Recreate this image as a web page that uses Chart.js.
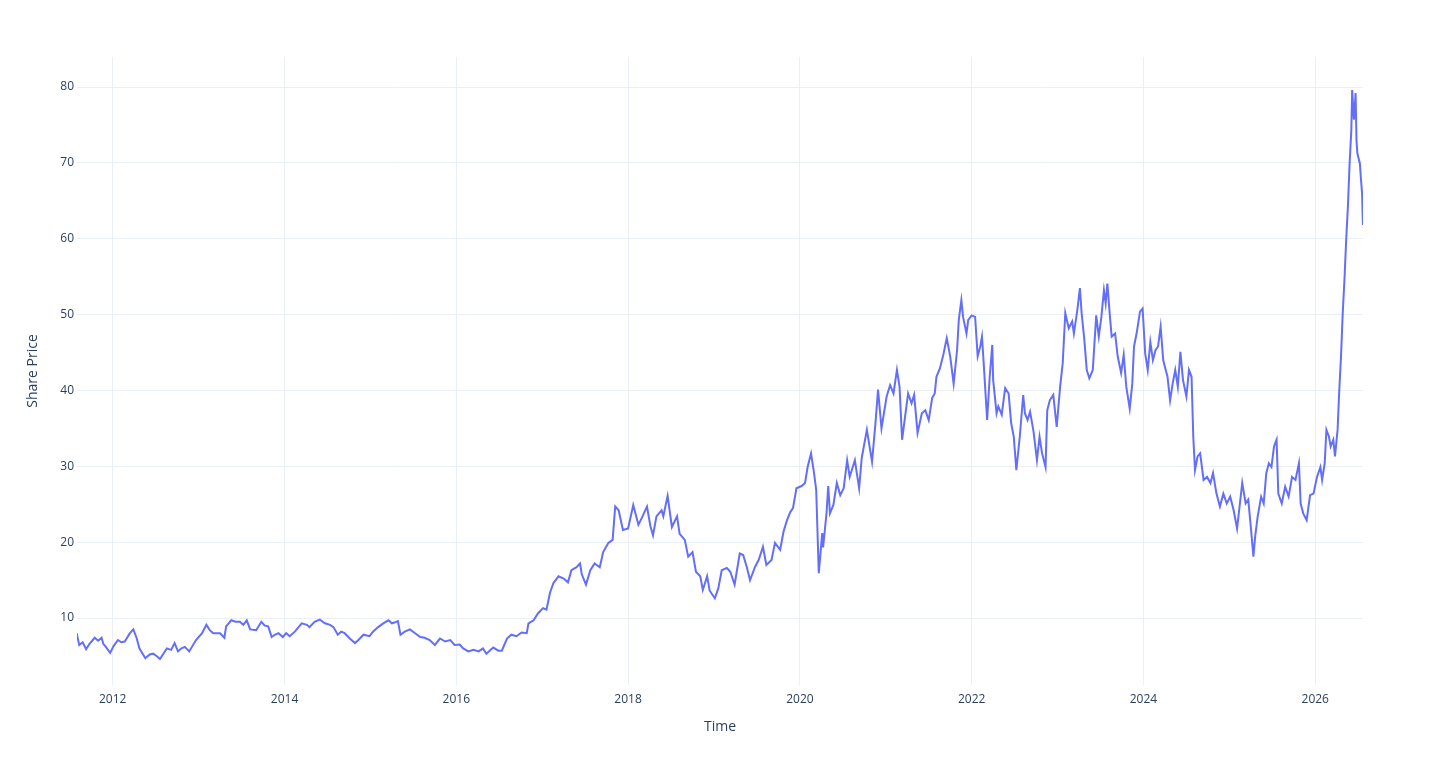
<!DOCTYPE html>
<html>
<head>
<meta charset="utf-8">
<title>Share Price</title>
<script src="https://cdn.jsdelivr.net/npm/chart.js@4.4.1/dist/chart.umd.min.js"></script>
<style>
  html, body { margin: 0; padding: 0; background: #fff; }
  #chart { display: block; }
</style>
</head>
<body>
<canvas id="chart" width="1440" height="768"></canvas>
<script>
// time in decimal years
const years = [
  2011.58, 2011.61, 2011.65, 2011.69, 2011.73, 2011.79, 2011.83, 2011.87, 2011.89, 2011.92,
  2011.97, 2012.01, 2012.06, 2012.10, 2012.14, 2012.20, 2012.24, 2012.28, 2012.31, 2012.38,
  2012.43, 2012.47, 2012.51, 2012.55, 2012.63, 2012.68, 2012.72, 2012.76, 2012.80, 2012.84,
  2012.89, 2012.97, 2013.04, 2013.09, 2013.13, 2013.17, 2013.25, 2013.30, 2013.32, 2013.38,
  2013.43, 2013.48, 2013.52, 2013.56, 2013.60, 2013.67, 2013.73, 2013.77, 2013.81, 2013.85,
  2013.89, 2013.93, 2013.98, 2014.02, 2014.06, 2014.12, 2014.20, 2014.26, 2014.29, 2014.35,
  2014.41, 2014.47, 2014.53, 2014.57, 2014.62, 2014.66, 2014.70, 2014.76, 2014.82, 2014.86,
  2014.92, 2014.99, 2015.03, 2015.09, 2015.15, 2015.21, 2015.25, 2015.28, 2015.32, 2015.35,
  2015.40, 2015.46, 2015.52, 2015.58, 2015.63, 2015.69, 2015.75, 2015.81, 2015.87, 2015.93,
  2015.98, 2016.04, 2016.08, 2016.14, 2016.20, 2016.26, 2016.31, 2016.35, 2016.43, 2016.49,
  2016.53, 2016.59, 2016.64, 2016.70, 2016.76, 2016.82, 2016.84, 2016.90, 2016.95, 2017.01,
  2017.05, 2017.09, 2017.13, 2017.19, 2017.25, 2017.30, 2017.34, 2017.40, 2017.44, 2017.46,
  2017.51, 2017.56, 2017.61, 2017.67, 2017.71, 2017.77, 2017.82, 2017.85, 2017.89, 2017.94,
  2018.00, 2018.06, 2018.12, 2018.16, 2018.22, 2018.26, 2018.29, 2018.33, 2018.39, 2018.41,
  2018.46, 2018.51, 2018.57, 2018.60, 2018.66, 2018.70, 2018.75, 2018.79, 2018.84, 2018.87,
  2018.92, 2018.95, 2019.01, 2019.05, 2019.09, 2019.15, 2019.19, 2019.24, 2019.30, 2019.34,
  2019.38, 2019.42, 2019.48, 2019.52, 2019.57, 2019.61, 2019.67, 2019.71, 2019.77, 2019.81,
  2019.85, 2019.89, 2019.92, 2019.96, 2020.02, 2020.06, 2020.09, 2020.13, 2020.16, 2020.19,
  2020.22, 2020.26, 2020.27, 2020.31, 2020.33, 2020.35, 2020.39, 2020.43, 2020.47, 2020.51,
  2020.55, 2020.58, 2020.64, 2020.69, 2020.72, 2020.78, 2020.84, 2020.88, 2020.91, 2020.95,
  2021.01, 2021.05, 2021.09, 2021.13, 2021.16, 2021.19, 2021.23, 2021.26, 2021.30, 2021.33,
  2021.37, 2021.42, 2021.46, 2021.50, 2021.54, 2021.57, 2021.59, 2021.63, 2021.67, 2021.71,
  2021.75, 2021.79, 2021.83, 2021.85, 2021.88, 2021.90, 2021.94, 2021.96, 2022.00, 2022.04,
  2022.07, 2022.10, 2022.12, 2022.14, 2022.18, 2022.21, 2022.24, 2022.25, 2022.29, 2022.31,
  2022.35, 2022.39, 2022.43, 2022.46, 2022.49, 2022.52, 2022.56, 2022.60, 2022.62, 2022.65,
  2022.68, 2022.72, 2022.76, 2022.79, 2022.82, 2022.86, 2022.88, 2022.91, 2022.95, 2022.99,
  2023.03, 2023.06, 2023.09, 2023.13, 2023.17, 2023.19, 2023.23, 2023.26, 2023.28, 2023.31,
  2023.34, 2023.37, 2023.41, 2023.45, 2023.48, 2023.51, 2023.54, 2023.56, 2023.58, 2023.61,
  2023.63, 2023.67, 2023.70, 2023.74, 2023.77, 2023.80, 2023.84, 2023.87, 2023.89, 2023.92,
  2023.96, 2023.99, 2024.02, 2024.05, 2024.08, 2024.11, 2024.14, 2024.17, 2024.20, 2024.23,
  2024.25, 2024.28, 2024.31, 2024.34, 2024.37, 2024.40, 2024.43, 2024.46, 2024.50, 2024.53,
  2024.56, 2024.58, 2024.60, 2024.63, 2024.66, 2024.70, 2024.74, 2024.78, 2024.81, 2024.85,
  2024.89, 2024.93, 2024.97, 2025.01, 2025.05, 2025.09, 2025.15, 2025.19, 2025.22, 2025.25,
  2025.28, 2025.30, 2025.33, 2025.37, 2025.40, 2025.43, 2025.46, 2025.49, 2025.52, 2025.55,
  2025.57, 2025.61, 2025.65, 2025.69, 2025.73, 2025.77, 2025.81, 2025.83, 2025.86, 2025.90,
  2025.94, 2025.98, 2026.02, 2026.06, 2026.08, 2026.11, 2026.13, 2026.16, 2026.18, 2026.21,
  2026.23, 2026.26, 2026.28, 2026.30, 2026.32, 2026.34, 2026.36, 2026.38, 2026.40, 2026.42,
  2026.43, 2026.45, 2026.47, 2026.48, 2026.49, 2026.52, 2026.53, 2026.545, 2026.555
];

// share price at each of those times
const prices = [
  8.0, 6.45, 6.8, 5.9, 6.6, 7.4, 7.0, 7.4, 6.6, 6.2,
  5.4, 6.3, 7.1, 6.8, 6.9, 8.0, 8.5, 7.3, 6.0, 4.7,
  5.2, 5.3, 5.0, 4.6, 6.0, 5.8, 6.7, 5.6, 6.0, 6.2,
  5.6, 7.1, 8.0, 9.1, 8.4, 8.0, 8.0, 7.4, 8.9, 9.7,
  9.5, 9.5, 9.1, 9.7, 8.5, 8.4, 9.5, 9.0, 8.9, 7.5,
  7.8, 8.0, 7.5, 8.0, 7.6, 8.2, 9.3, 9.1, 8.8, 9.5,
  9.8, 9.3, 9.1, 8.8, 7.8, 8.2, 8.0, 7.3, 6.7, 7.1,
  7.8, 7.6, 8.2, 8.8, 9.3, 9.7, 9.3, 9.4, 9.6, 7.8,
  8.2, 8.5, 8.0, 7.5, 7.4, 7.1, 6.45, 7.3, 6.9, 7.1,
  6.45, 6.5, 6.0, 5.6, 5.8, 5.6, 6.0, 5.3, 6.1, 5.7,
  5.7, 7.3, 7.8, 7.6, 8.1, 8.0, 9.3, 9.7, 10.6, 11.3,
  11.1, 13.3, 14.6, 15.5, 15.2, 14.7, 16.3, 16.7, 17.2, 15.8,
  14.4, 16.3, 17.2, 16.7, 18.7, 19.9, 20.3, 24.7, 24.2, 21.6,
  21.8, 24.9, 22.3, 23.2, 24.7, 22.1, 20.9, 23.4, 24.2, 23.4,
  26.1, 22.0, 23.4, 21.1, 20.3, 18.1, 18.7, 16.1, 15.5, 13.7,
  15.5, 13.6, 12.6, 13.9, 16.3, 16.6, 16.1, 14.4, 18.5, 18.3,
  16.8, 15.0, 16.8, 17.65, 19.4, 17.0, 17.65, 19.9, 19.0, 21.4,
  22.9, 24.0, 24.5, 27.1, 27.4, 27.8, 29.9, 31.7, 29.5, 26.9,
  15.9, 21.2, 19.3, 23.8, 27.4, 23.8, 24.9, 27.8, 26.2, 27.1,
  30.8, 28.6, 30.8, 27.1, 31.1, 34.8, 30.6, 35.7, 40.1, 35.0,
  39.2, 40.7, 39.6, 42.7, 40.5, 33.5, 37.0, 39.6, 38.3, 39.4,
  34.4, 37.0, 37.4, 36.1, 39.0, 39.6, 41.8, 42.9, 44.7, 46.9,
  44.5, 40.9, 45.3, 49.3, 51.9, 49.7, 47.5, 49.3, 49.9, 49.7,
  44.5, 45.8, 47.1, 43.6, 36.1, 41.8, 46.0, 41.4, 37.0, 37.9,
  36.8, 40.3, 39.6, 35.7, 33.9, 29.5, 33.9, 39.4, 37.0, 36.1,
  37.2, 34.6, 30.8, 33.9, 31.7, 29.9, 37.4, 38.7, 39.4, 35.2,
  40.5, 43.6, 50.2, 48.2, 49.1, 47.5, 50.6, 53.5, 50.2, 46.9,
  42.7, 41.6, 42.7, 49.9, 47.1, 49.7, 53.2, 51.5, 54.1, 49.7,
  47.1, 47.5, 44.5, 42.3, 44.7, 40.5, 37.6, 40.9, 45.8, 47.5,
  50.4, 50.8, 44.9, 42.7, 46.4, 44.0, 45.3, 45.8, 48.4, 44.0,
  43.1, 41.8, 38.7, 40.9, 42.7, 40.5, 45.1, 41.4, 39.2, 42.7,
  41.8, 33.9, 29.5, 31.3, 31.7, 28.2, 28.6, 27.8, 29.1, 26.4,
  24.7, 26.4, 25.1, 26.0, 24.2, 21.8, 27.8, 25.1, 25.6, 22.0,
  18.1, 20.7, 23.4, 26.0, 25.1, 29.1, 30.4, 29.9, 32.6, 33.5,
  26.4, 25.1, 27.3, 26.0, 28.6, 28.2, 30.4, 25.1, 23.8, 22.9,
  26.2, 26.4, 28.6, 29.9, 28.2, 30.4, 34.8, 33.9, 32.6, 33.5,
  31.3, 34.8, 40.1, 44.5, 50.2, 54.6, 59.8, 64.2, 69.9, 74.3,
  79.6, 75.7, 79.2, 73.0, 71.3, 69.9, 68.2, 66.0, 61.8
];

const yTicks = [10, 20, 30, 40, 50, 60, 70, 80];
const xTicks = [2012, 2014, 2016, 2018, 2020, 2022, 2024, 2026];

const textColor = '#2a3f5f';
const gridColor = '#ebf0f8';

const points = years.map((t, i) => ({ x: t, y: prices[i] }));

const ctx = document.getElementById('chart').getContext('2d');
const chart = new Chart(ctx, {
    type: 'line',
    data: {
        datasets: [{
            data: points,
            borderColor: '#636efa',
            borderWidth: 2,
            pointRadius: 0,
            tension: 0,
            fill: false
        }]
    },
    options: {
        responsive: false,
        animation: false,
        events: [],
        layout: { padding: { top: 57, right: 77, bottom: 0, left: 0 } },
        plugins: {
            legend: { display: false },
            tooltip: { enabled: false }
        },
        scales: {
            x: {
                type: 'linear',
                min: 2011.584,
                max: 2026.556,
                afterBuildTicks: (scale) => { scale.ticks = xTicks.map(v => ({ value: v })); },
                afterFit: (scale) => { scale.height = 83; },
                ticks: {
                    color: textColor,
                    font: { family: 'Open Sans', size: 12 },
                    padding: 7,
                    maxRotation: 0,
                    callback: (v) => String(v)
                },
                grid: { color: gridColor, drawTicks: false },
                border: { display: false },
                title: {
                    display: true,
                    text: 'Time',
                    color: textColor,
                    font: { family: 'Open Sans', size: 14 },
                    padding: { top: 0, bottom: 33 }
                }
            },
            y: {
                type: 'linear',
                min: 1.17,
                max: 83.96,
                afterBuildTicks: (scale) => { scale.ticks = yTicks.map(v => ({ value: v })); },
                afterFit: (scale) => { scale.width = 77; },
                ticks: {
                    color: textColor,
                    font: { family: 'Open Sans', size: 12 },
                    padding: 3
                },
                grid: { color: gridColor, drawTicks: false },
                border: { display: false },
                title: {
                    display: true,
                    text: 'Share Price',
                    color: textColor,
                    font: { family: 'Open Sans', size: 14 },
                    padding: { top: 25, bottom: 0 }
                }
            }
        }
    }
});
</script>
</body>
</html>
